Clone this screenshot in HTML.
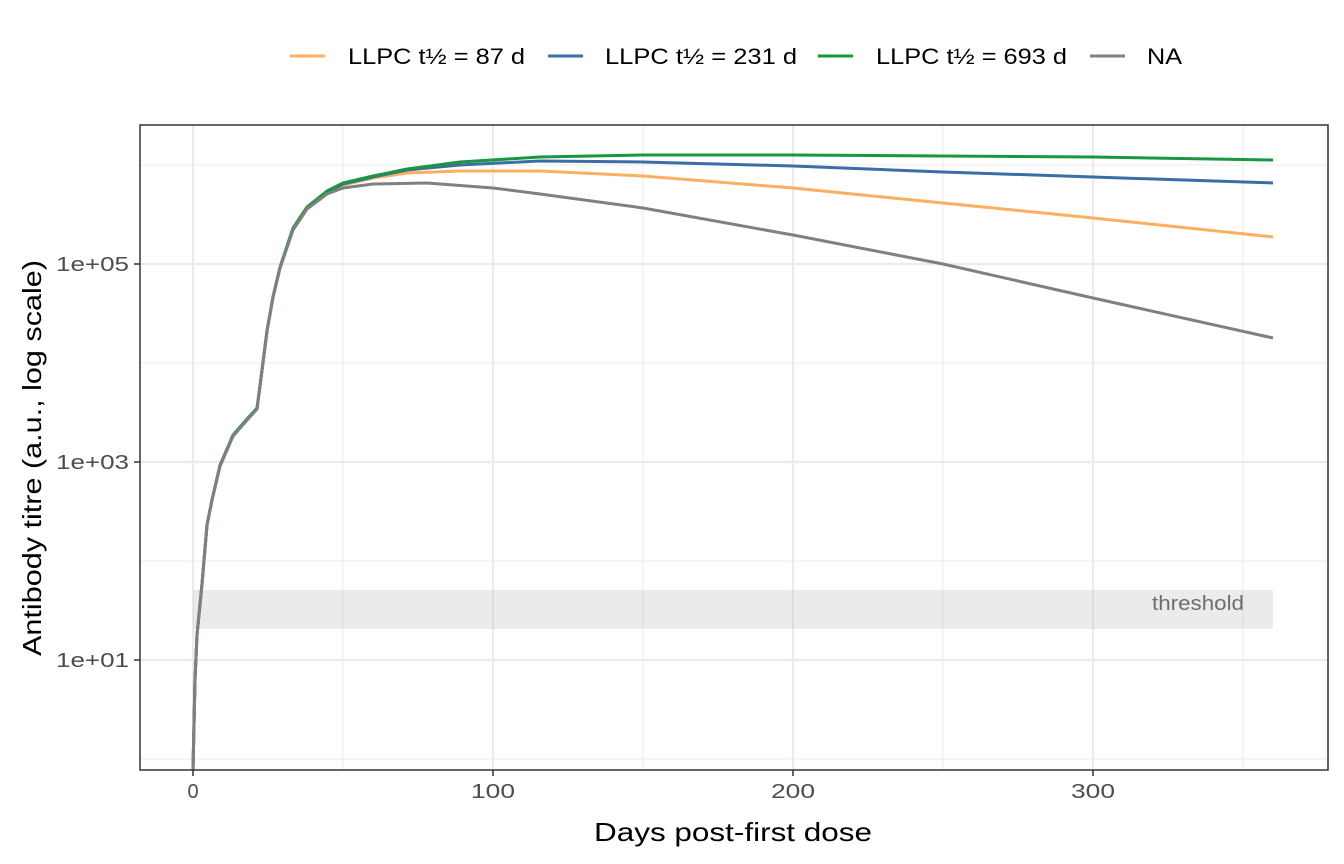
<!DOCTYPE html>
<html><head><meta charset="utf-8"><style>
html,body{margin:0;padding:0;background:#fff;}
svg{display:block;font-family:"Liberation Sans",Arial,sans-serif;}
</style></head><body>
<svg width="1344" height="864" viewBox="0 0 1344 864" xmlns="http://www.w3.org/2000/svg">
<rect width="1344" height="864" fill="#fff"/>
<g stroke="#ebebeb" stroke-width="1">
<line x1="140" x2="1328" y1="165" y2="165"/><line x1="140" x2="1328" y1="363" y2="363"/>
<line x1="140" x2="1328" y1="561" y2="561"/><line x1="140" x2="1328" y1="759" y2="759"/>
<line x1="343" x2="343" y1="125" y2="770"/><line x1="643" x2="643" y1="125" y2="770"/>
<line x1="943" x2="943" y1="125" y2="770"/><line x1="1243" x2="1243" y1="125" y2="770"/>
</g>
<g stroke="#ebebeb" stroke-width="2.2">
<line x1="140" x2="1328" y1="264" y2="264"/><line x1="140" x2="1328" y1="462" y2="462"/>
<line x1="140" x2="1328" y1="660" y2="660"/>
<line x1="193" x2="193" y1="125" y2="770"/><line x1="493" x2="493" y1="125" y2="770"/>
<line x1="793" x2="793" y1="125" y2="770"/><line x1="1093" x2="1093" y1="125" y2="770"/>
</g>
<rect x="193" y="590" width="1080" height="39" fill="#bdbdbd" fill-opacity="0.3"/>
<text x="1244" y="610" font-size="20" fill="#6e6e6e" text-anchor="end" textLength="92" lengthAdjust="spacingAndGlyphs">threshold</text>
<g fill="none" stroke-width="3" stroke-linejoin="round">
<path stroke="#fdae61" d="M193,770 L195,680 L197,635 L202,584 L207,525 L212,500 L220,466 L233,436 L247,420 L257,409 L260,386 L267,331 L273,297 L280,268 L293,230 L307,209 L327,193 L343,185 L373,178 L407,173 L460,171 L540,171 L643,176 L793,188 L943,203 L1093,218 L1273,237"/>
<path stroke="#3a6ea5" d="M193,770 L195,680 L197,635 L202,584 L207,525 L212,500 L220,466 L233,436 L247,420 L257,409 L260,386 L267,331 L273,297 L280,268 L293,229 L307,208 L327,192 L343,184 L373,177 L407,170 L460,165 L540,161 L643,162 L793,166 L943,172 L1093,177 L1273,183"/>
<path stroke="#1a9641" d="M193,770 L195,680 L197,635 L202,584 L207,525 L212,500 L220,465 L233,435 L247,419 L257,408 L260,386 L267,331 L273,297 L280,267 L293,228 L307,207 L327,191 L343,183 L373,176 L407,169 L460,162 L540,157 L643,155 L793,155 L943,156 L1093,157 L1273,160"/>
<path stroke="#808080" d="M193,770 L195,680 L197,635 L202,584 L207,525 L212,500 L220,466 L233,436 L247,420 L257,409 L260,386 L267,331 L273,297 L280,268 L293,230 L307,209 L327,194 L343,188 L373,184 L427,183 L493,188 L540,194 L643,208 L793,235 L943,264 L1093,298 L1273,338"/>
</g>
<rect x="140" y="125" width="1188" height="645" fill="none" stroke="#333" stroke-width="1.5"/>
<g stroke="#333" stroke-width="1.5">
<line x1="134" x2="140" y1="264" y2="264"/><line x1="134" x2="140" y1="462" y2="462"/><line x1="134" x2="140" y1="660" y2="660"/>
<line x1="193" x2="193" y1="770" y2="776"/><line x1="493" x2="493" y1="770" y2="776"/><line x1="793" x2="793" y1="770" y2="776"/><line x1="1093" x2="1093" y1="770" y2="776"/>
</g>
<g font-size="20" fill="#4d4d4d" text-anchor="end">
<text x="129" y="271" textLength="73" lengthAdjust="spacingAndGlyphs">1e+05</text>
<text x="129" y="469" textLength="73" lengthAdjust="spacingAndGlyphs">1e+03</text>
<text x="129" y="667" textLength="73" lengthAdjust="spacingAndGlyphs">1e+01</text>
</g>
<g font-size="20" fill="#4d4d4d" text-anchor="middle">
<text x="193" y="798">0</text>
<text x="493" y="798" textLength="44" lengthAdjust="spacingAndGlyphs">100</text>
<text x="793" y="798" textLength="44" lengthAdjust="spacingAndGlyphs">200</text>
<text x="1093" y="798" textLength="44" lengthAdjust="spacingAndGlyphs">300</text>
</g>
<text x="594" y="841" font-size="26" fill="#000" textLength="278" lengthAdjust="spacingAndGlyphs">Days post-first dose</text>
<text transform="translate(41,656) rotate(-90)" font-size="26" fill="#000" textLength="396" lengthAdjust="spacingAndGlyphs">Antibody titre (a.u., log scale)</text>
<g stroke-width="3">
<line x1="290" x2="325" y1="56" y2="56" stroke="#fdae61"/>
<line x1="548" x2="583" y1="56" y2="56" stroke="#3a6ea5"/>
<line x1="818" x2="853" y1="56" y2="56" stroke="#1a9641"/>
<line x1="1090" x2="1125" y1="56" y2="56" stroke="#808080"/>
</g>
<g font-size="22" fill="#000">
<text x="348" y="64" textLength="177" lengthAdjust="spacingAndGlyphs">LLPC t½ = 87 d</text>
<text x="605" y="64" textLength="192" lengthAdjust="spacingAndGlyphs">LLPC t½ = 231 d</text>
<text x="876" y="64" textLength="191" lengthAdjust="spacingAndGlyphs">LLPC t½ = 693 d</text>
<text x="1147" y="64" textLength="35" lengthAdjust="spacingAndGlyphs">NA</text>
</g>
</svg>
</body></html>
